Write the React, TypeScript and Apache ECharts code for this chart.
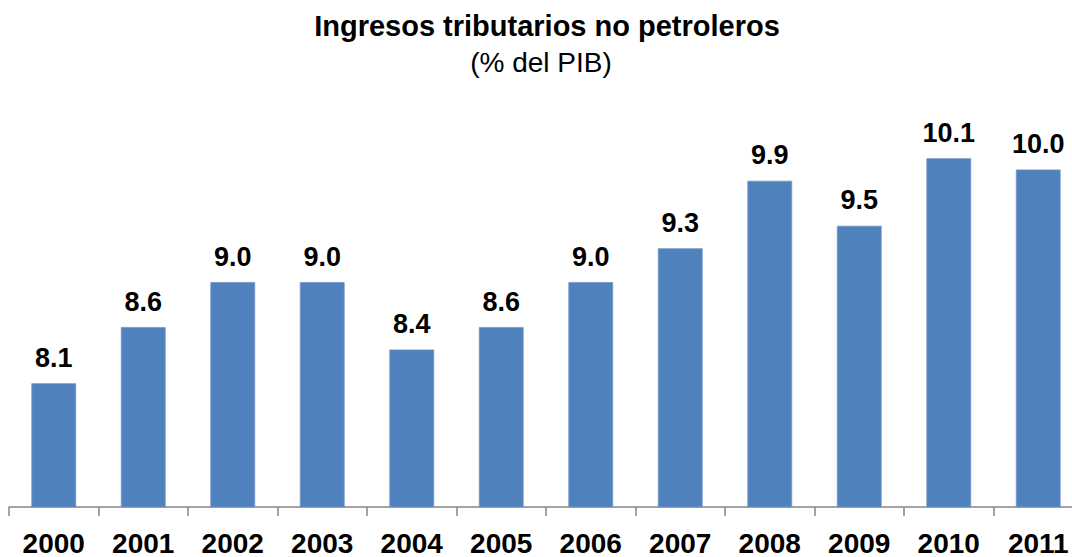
import React, { useEffect, useRef } from "react";
import * as echarts from "echarts";

const categories = ["2000","2001","2002","2003","2004","2005","2006","2007","2008","2009","2010","2011"];
const values = [8.1, 8.6, 9.0, 9.0, 8.4, 8.6, 9.0, 9.3, 9.9, 9.5, 10.1, 10.0];
const titleText = "Ingresos tributarios no petroleros";
const subtitleText = "(% del PIB)";

export default function App() {
  const ref = useRef<HTMLDivElement>(null);
  useEffect(() => {
    if (!ref.current) return;
    const chart = echarts.init(ref.current, null, { renderer: "svg" });
    const font = "Liberation Sans, Arial, sans-serif";
    chart.setOption({
      animation: false,
      backgroundColor: "#ffffff",
      title: [
        {
          text: titleText,
          left: 542,
          textAlign: "center",
          top: 6,
          textStyle: { fontFamily: font, fontSize: 29, fontWeight: "bold", color: "#000" },
        },
        {
          text: subtitleText,
          left: 536,
          textAlign: "center",
          top: 43,
          textStyle: { fontFamily: font, fontSize: 28, fontWeight: "normal", color: "#000" },
        },
      ],
      grid: { left: 9, width: 1074, top: 57, height: 450 },
      xAxis: {
        type: "category",
        data: categories,
        axisLine: { lineStyle: { color: "#868686", width: 1.5 } },
        axisTick: { show: true, length: 9, lineStyle: { color: "#868686", width: 1.5 } },
        axisLabel: { fontFamily: font, fontSize: 28, fontWeight: "bold", color: "#000", margin: 22, interval: 0 },
      },
      yAxis: {
        type: "value",
        min: 7,
        max: 11,
        show: false,
        splitLine: { show: false },
      },
      series: [
        {
          type: "bar",
          data: values,
          barWidth: "50%",
          itemStyle: { color: "#4F81BD", borderColor: "#7396C8", borderWidth: 0.8 },
          label: {
            show: true,
            position: "top",
            distance: 12,
            formatter: (p: any) => Number(p.value).toFixed(1),
            fontFamily: font,
            fontSize: 27,
            fontWeight: "bold",
            color: "#000",
          },
        },
      ],
    });
    return () => chart.dispose();
  }, []);
  return (
    <div
      ref={ref}
      style={{ position: "fixed", left: 0, top: 0, width: 1100, height: 557 }}
    />
  );
}
